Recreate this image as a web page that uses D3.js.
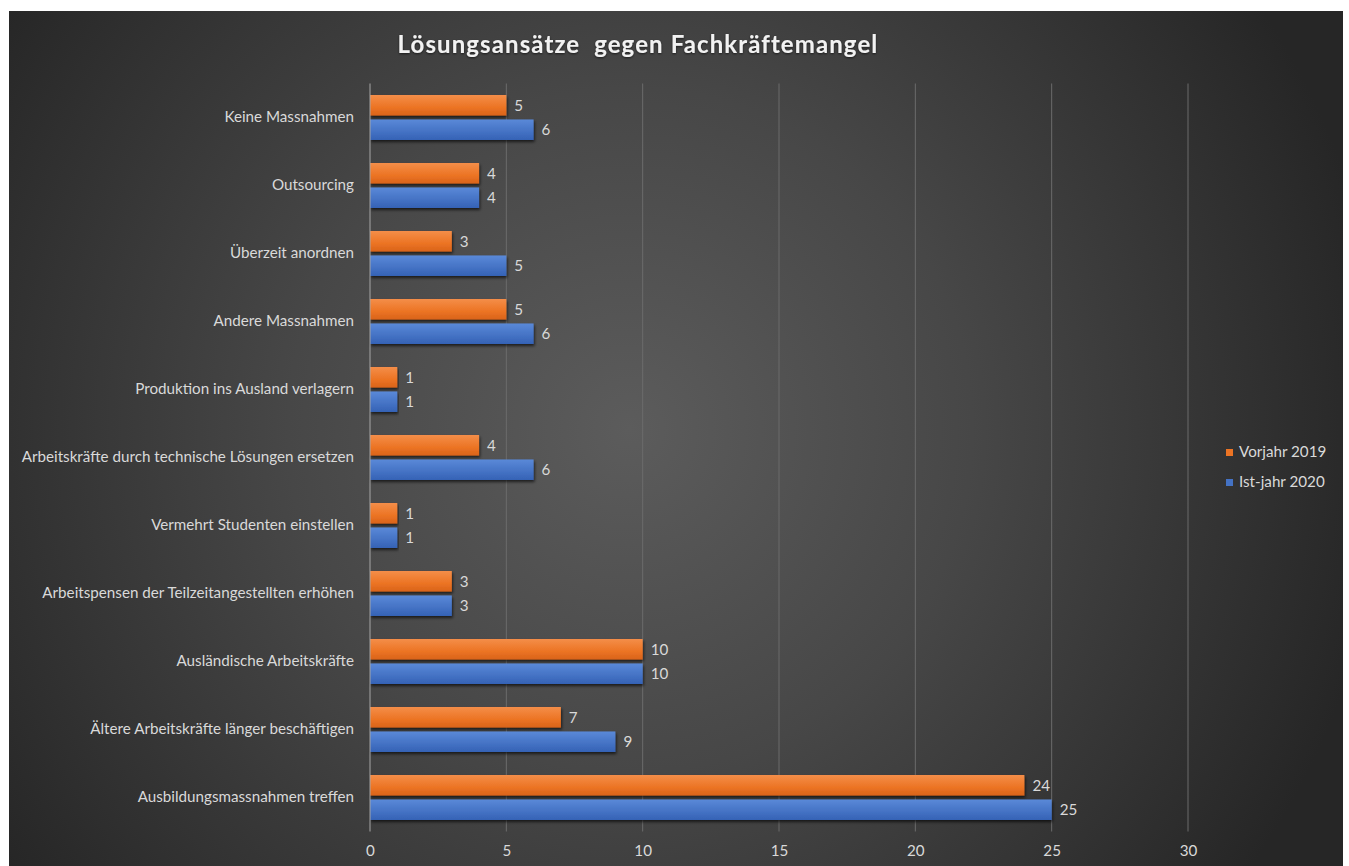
<!DOCTYPE html>
<html><head><meta charset="utf-8">
<script src="https://cdn.jsdelivr.net/npm/d3@7"></script>
<style>html,body{margin:0;padding:0;background:#fff;}svg{display:block;}</style>
</head><body>
<svg id="chart" width="1349" height="866"></svg>
<script>
const categories = [
  "Keine Massnahmen",
  "Outsourcing",
  "Überzeit anordnen",
  "Andere Massnahmen",
  "Produktion ins Ausland verlagern",
  "Arbeitskräfte durch technische Lösungen ersetzen",
  "Vermehrt Studenten einstellen",
  "Arbeitspensen der Teilzeitangestellten erhöhen",
  "Ausländische Arbeitskräfte",
  "Ältere Arbeitskräfte länger beschäftigen",
  "Ausbildungsmassnahmen treffen"
];
const seriesNames = ["Vorjahr 2019", "Ist-jahr 2020"];
const vorjahr2019 = [5, 4, 3, 5, 1, 4, 1, 3, 10, 7, 24];
const istjahr2020 = [6, 4, 5, 6, 1, 6, 1, 3, 10, 9, 25];
const xTicks = [0, 5, 10, 15, 20, 25, 30];
const titleText = "Lösungsansätze\u00a0 gegen Fachkräftemangel";

const FONT = "Lato, sans-serif";
const FS = 15.2;
const svg = d3.select("#chart");
const defs = svg.append("defs");

const bg = defs.append("radialGradient").attr("id","bg")
  .attr("gradientUnits","userSpaceOnUse").attr("cx",630).attr("cy",430).attr("r",760);
bg.append("stop").attr("offset","0%").attr("stop-color","#5c5c5c");
bg.append("stop").attr("offset","45%").attr("stop-color","#474747");
bg.append("stop").attr("offset","100%").attr("stop-color","#262626");

const colors = [["#f48e49","#ec7424","#d9631a"],["#5a89d8","#4472c4","#3562b5"]];
colors.forEach((c,i)=>{
  const g = defs.append("linearGradient").attr("id","bar"+i).attr("x1",0).attr("y1",0).attr("x2",0).attr("y2",1);
  g.append("stop").attr("offset","0%").attr("stop-color",c[0]);
  g.append("stop").attr("offset","60%").attr("stop-color",c[1]);
  g.append("stop").attr("offset","100%").attr("stop-color",c[2]);
});
const f = defs.append("filter").attr("id","shadow").attr("x","-5%").attr("y","-30%").attr("width","110%").attr("height","180%");
f.append("feDropShadow").attr("dx",1).attr("dy",2).attr("stdDeviation",1.5).attr("flood-color","#000").attr("flood-opacity",0.65);
const tf = defs.append("filter").attr("id","tshadow");
tf.append("feDropShadow").attr("dx",0).attr("dy",1).attr("stdDeviation",1).attr("flood-color","#000").attr("flood-opacity",0.6);

svg.append("rect").attr("x",9).attr("y",11).attr("width",1334).attr("height",870).attr("fill","url(#bg)");

const x = d3.scaleLinear().domain([0,30]).range([370,1188]);
const y = d3.scaleBand().domain(categories).range([83.5,831.5]).paddingInner(0.338).paddingOuter(0.169);
const ys = d3.scaleBand().domain(seriesNames).range([0,y.bandwidth()]).paddingInner(0.16);

// gridlines
svg.append("g").selectAll("line").data(xTicks.filter(t=>t>0)).join("line")
  .attr("x1",d=>x(d)).attr("x2",d=>x(d)).attr("y1",83.5).attr("y2",831.5)
  .attr("stroke","#6b6b6b").attr("stroke-width",1);

// x axis labels
const xAxis = d3.axisBottom(x).tickValues(xTicks).tickSize(0).tickPadding(14);
const gx = svg.append("g").attr("transform","translate(0,831.5)").call(xAxis);
gx.select(".domain").remove();
gx.selectAll("text").attr("fill","#d9d9d9").attr("font-family",FONT).attr("font-size",FS);

// y axis labels
const yAxis = d3.axisLeft(y).tickSize(0).tickPadding(16);
const gy = svg.append("g").attr("transform","translate(370,0)").call(yAxis);
gy.select(".domain").remove();
gy.selectAll("text").attr("fill","#d9d9d9").attr("font-family",FONT).attr("font-size",FS);

const data = [vorjahr2019, istjahr2020];
seriesNames.forEach((s,i)=>{
  const g = svg.append("g");
  g.selectAll("rect").data(categories).join("rect")
    .attr("x",x(0)).attr("y",(d)=>y(d)+ys(s))
    .attr("width",(d,j)=>x(data[i][j])-x(0)).attr("height",ys.bandwidth())
    .attr("fill","url(#bar"+i+")").attr("filter","url(#shadow)");
  g.selectAll("text").data(categories).join("text")
    .attr("x",(d,j)=>x(data[i][j])+8).attr("y",d=>y(d)+ys(s)+ys.bandwidth()/2)
    .attr("dy","0.35em").attr("fill","#d9d9d9")
    .attr("font-family",FONT).attr("font-size",FS)
    .text((d,j)=>data[i][j]);
});

// axis line at 0
svg.append("line").attr("x1",x(0)).attr("x2",x(0)).attr("y1",83.5).attr("y2",831.5)
  .attr("stroke","#a6a6a6").attr("stroke-width",1);

// title
svg.append("text").attr("x",638).attr("y",53).attr("text-anchor","middle")
  .attr("fill","#f2f2f2").attr("font-family",FONT).attr("font-weight","bold")
  .attr("font-size",24).attr("letter-spacing",1.1).attr("filter","url(#tshadow)")
  .style("white-space","pre").text(titleText);

// legend
const leg = svg.append("g");
seriesNames.forEach((s,i)=>{
  leg.append("rect").attr("x",1226).attr("y",452+i*30-3).attr("width",7).attr("height",7).attr("fill",colors[i][1]);
  leg.append("text").attr("x",1239).attr("y",452+i*30).attr("dy","0.35em")
    .attr("fill","#d9d9d9").attr("font-family",FONT).attr("font-size",FS).text(s);
});
</script>
</body></html>
